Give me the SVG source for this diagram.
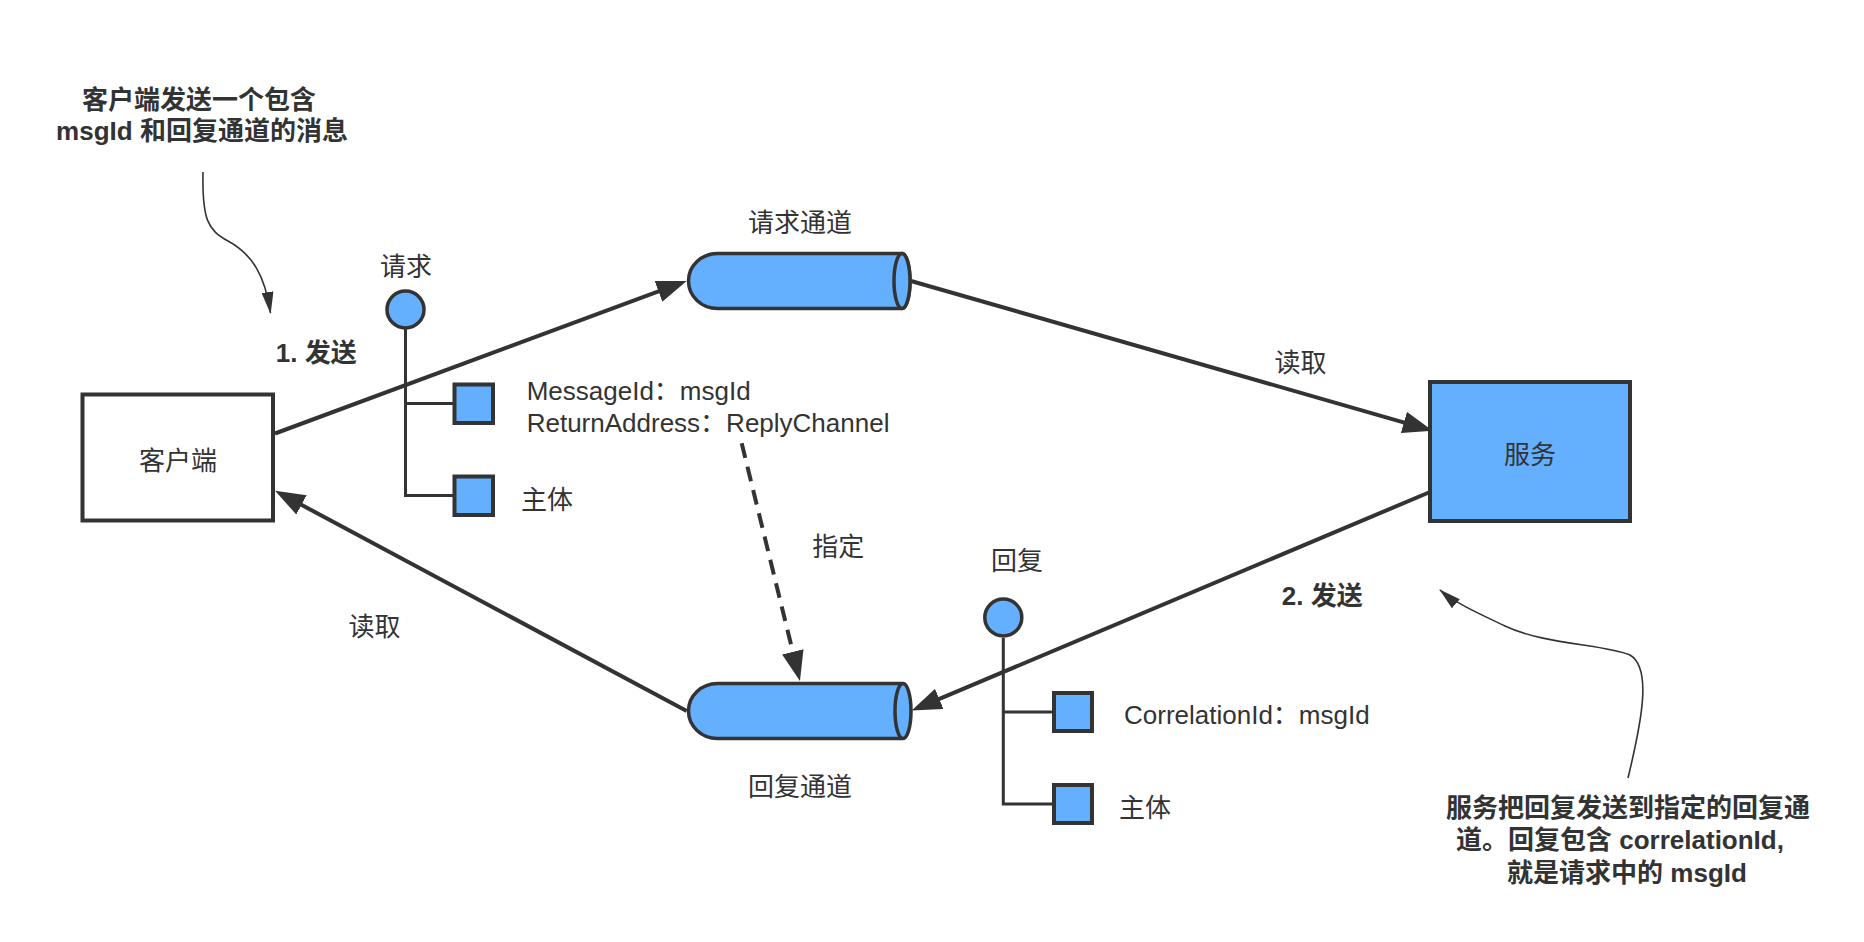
<svg xmlns="http://www.w3.org/2000/svg" width="1864" height="942" viewBox="0 0 1864 942">
  <style>
    text { font-family: "Liberation Sans", "Noto Sans CJK SC", sans-serif; font-size: 26px; fill: #333333; }
    .c { text-anchor: middle; dominant-baseline: central; }
    .l { dominant-baseline: central; }
    .b { font-weight: bold; }
    .box { stroke: #333333; stroke-width: 4; }
    .blue { fill: #64B0FE; }
    .white { fill: #FFFFFF; }
    .shape { stroke: #333333; stroke-width: 3.5; }
    .tree { fill: none; stroke: #333333; stroke-width: 3; }
    .conn { fill: none; stroke: #333333; stroke-width: 4; }
    .dash { stroke-dasharray: 15 9; }
    .note { fill: none; stroke: #333333; stroke-width: 1.6; }
  </style>
  <defs>
    <marker id="arrow" markerUnits="userSpaceOnUse" viewBox="0 0 30 22" markerWidth="30" markerHeight="22" refX="5" refY="11" orient="auto">
      <path d="M0,0 L30,11 L0,22 Z" fill="#333333"/>
    </marker>
    <marker id="arrowSmall" markerUnits="userSpaceOnUse" viewBox="0 0 22 12" markerWidth="22" markerHeight="12" refX="21" refY="6" orient="auto">
      <path d="M0,0 L22,6 L0,12 Z" fill="#333333"/>
    </marker>
    <path id="cyl" d="M717.5,253.5 L902,253.5 A8,27.5 0 0 1 902,308.5 L717.5,308.5 A29,27.5 0 0 1 717.5,253.5 Z"/>
  </defs>

  <rect width="1864" height="942" fill="#FFFFFF"/>

  <g id="connectors">
    <path class="conn" d="M275,433.5 L663.2,289.7" marker-end="url(#arrow)"/>
    <path class="conn" d="M911,281 L1408.7,423.8" marker-end="url(#arrow)"/>
    <path class="conn" d="M1430,492 L934.7,700.9" marker-end="url(#arrow)"/>
    <path class="conn" d="M686.7,711 L297.1,502.5" marker-end="url(#arrow)"/>
    <path class="conn dash" d="M741.7,443.3 L794,656.7" marker-end="url(#arrow)"/>
    <path class="note" d="M203,172 C202,220 208,230 228,241 C252,254 265,275 270.5,313" marker-end="url(#arrowSmall)"/>
    <path class="note" d="M1628,778 C1642,720 1652,668 1630,655 C1605,644 1545,645 1505,626 C1480,614 1455,603 1440,590" marker-end="url(#arrowSmall)"/>
  </g>

  <g id="client">
    <rect class="box white" x="82.5" y="394.5" width="190.5" height="126"/>
    <text class="c" x="178" y="461">客户端</text>
  </g>

  <g id="service">
    <rect class="box blue" x="1430" y="382" width="200" height="139"/>
    <text class="c" x="1530" y="455">服务</text>
  </g>

  <g id="request-channel">
    <use href="#cyl" class="shape blue"/>
    <ellipse class="shape blue" cx="902" cy="281" rx="8" ry="27.5"/>
    <text class="c" x="800" y="223">请求通道</text>
  </g>

  <g id="reply-channel">
    <use href="#cyl" class="shape blue" transform="translate(0,430)"/>
    <ellipse class="shape blue" cx="903" cy="711" rx="8" ry="27.5"/>
    <text class="c" x="800" y="787">回复通道</text>
  </g>

  <g id="request-message">
    <path class="tree" d="M405.5,329 V495.5 H454.5 M405.5,403.5 H454.5"/>
    <circle class="shape blue" cx="405.5" cy="309.5" r="18.5"/>
    <rect class="box blue" x="454.5" y="384.5" width="38.5" height="38.5"/>
    <rect class="box blue" x="454.5" y="476.5" width="38.5" height="38.5"/>
    <text class="c" x="406" y="267">请求</text>
    <text x="526.7" y="400">MessageId：msgId</text>
    <text x="526.7" y="431.7">ReturnAddress：ReplyChannel</text>
    <text class="l" x="521" y="500">主体</text>
  </g>

  <g id="reply-message">
    <path class="tree" d="M1003.3,638 V804 H1054 M1003.3,712 H1054"/>
    <circle class="shape blue" cx="1003.3" cy="617.5" r="18.5"/>
    <rect class="box blue" x="1054" y="693" width="38" height="38"/>
    <rect class="box blue" x="1054" y="785" width="38" height="38"/>
    <text class="c" x="1017" y="561">回复</text>
    <text x="1124" y="723.7">CorrelationId：msgId</text>
    <text class="l" x="1119" y="808">主体</text>
  </g>

  <g id="labels">
    <text class="c b" x="316.3" y="352.5">1. 发送</text>
    <text class="c b" x="1322.3" y="596">2. 发送</text>
    <text class="c" x="1300.6" y="362.5">读取</text>
    <text class="c" x="374.6" y="627">读取</text>
    <text class="c" x="838.3" y="547">指定</text>
  </g>

  <g id="note-client">
    <text class="b" text-anchor="middle" x="199" y="108.7">客户端发送一个包含</text>
    <text class="b" text-anchor="middle" x="202" y="140.2">msgId 和回复通道的消息</text>
  </g>

  <g id="note-service">
    <text class="b" text-anchor="middle" x="1628" y="817">服务把回复发送到指定的回复通</text>
    <text class="b" text-anchor="middle" x="1620" y="849">道。回复包含 correlationId,</text>
    <text class="b" text-anchor="middle" x="1627" y="881.5">就是请求中的 msgId</text>
  </g>
</svg>
